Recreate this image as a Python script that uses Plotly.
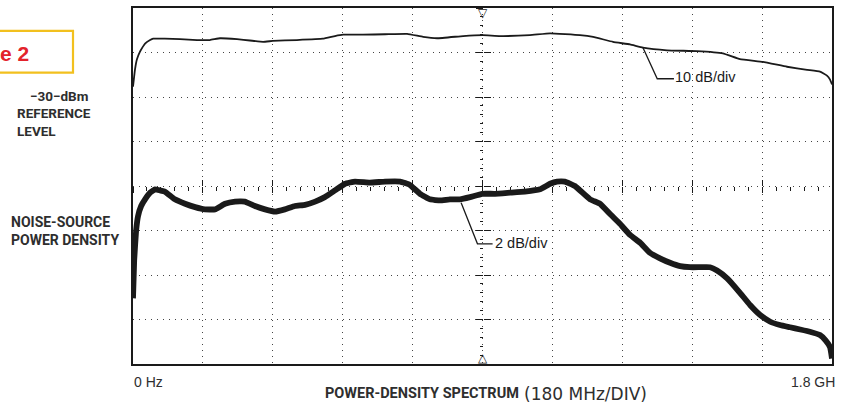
import plotly.graph_objects as go

# ---- data ----
freq_upper_mhz = [0, 5, 10, 18, 31, 44, 52, 82, 121, 165, 198, 224, 268, 301, 335, 360, 422, 489,
                  520, 541, 592, 649, 706, 747, 783, 850, 901, 945, 1022, 1074, 1151, 1185, 1236,
                  1280, 1313, 1375, 1452, 1519, 1563, 1622, 1684, 1736, 1769, 1787, 1795, 1800]
upper_dbm = [-47.7, -43.9, -41.6, -39.8, -38.0, -37.2, -36.9, -36.9, -37.0, -37.2, -37.2, -36.8,
             -37.0, -37.3, -37.6, -37.4, -37.2, -36.9, -36.3, -36.0, -36.0, -35.9, -35.8, -36.5,
             -36.8, -36.3, -36.1, -36.3, -36.1, -35.7, -36.1, -36.5, -37.6, -38.2, -38.9, -39.5,
             -39.7, -40.2, -41.5, -42.1, -43.2, -43.9, -44.3, -45.2, -46.1, -47.2]

freq_lower_mhz = [0, 3, 8, 13, 21, 31, 44, 57, 70, 82, 108, 134, 160, 185, 211, 237, 263, 288,
                  314, 340, 366, 391, 417, 443, 469, 494, 520, 546, 572, 610, 649, 688, 713, 739,
                  765, 791, 816, 842, 868, 899, 932, 971, 1009, 1048, 1074, 1092, 1112, 1138, 1177,
                  1203, 1228, 1254, 1280, 1306, 1331, 1357, 1383, 1409, 1434, 1460, 1486, 1504,
                  1530, 1563, 1589, 1615, 1641, 1666, 1692, 1718, 1743, 1769, 1784, 1795, 1800]
lower_db = [-43.05, -41.35, -40.0, -39.35, -38.9, -38.6, -38.3, -38.15, -38.2, -38.25, -38.6,
            -38.8, -38.95, -39.05, -39.05, -38.8, -38.7, -38.7, -38.9, -39.05, -39.15, -39.05,
            -38.9, -38.85, -38.7, -38.5, -38.2, -37.9, -37.8, -37.85, -37.8, -37.8, -37.95,
            -38.35, -38.6, -38.65, -38.6, -38.6, -38.5, -38.35, -38.35, -38.3, -38.25, -38.15,
            -37.9, -37.8, -37.8, -38.0, -38.6, -38.8, -39.25, -39.7, -40.2, -40.55, -41.0,
            -41.25, -41.45, -41.6, -41.65, -41.65, -41.65, -41.8, -42.15, -42.8, -43.35, -43.8,
            -44.1, -44.25, -44.35, -44.45, -44.55, -44.7, -44.95, -45.25, -45.75]

# axis settings (divisions)
x_span_mhz = [0, 1800]
x_div_mhz = 180
ref_level_dbm = -30
coarse_scale = 10   # dB/div
fine_scale = 2      # dB/div
n_ydiv = 8

ref_label = "\u221230\u2212dBm"
ref_text = ["REFERENCE", "LEVEL"]
noise_text = ["NOISE-SOURCE", "POWER DENSITY"]
x_start_label = "0 Hz"
x_end_label = "1.8 GH"
title_bold = "POWER-DENSITY SPECTRUM"
title_rest = "(180 MHz/DIV)"
coarse_label = "10 dB/div"
fine_label = "2 dB/div"
fig_label = "e 2"

# ---- layout geometry ----
W, H = 844, 403
ML, MR, MT, MB = 133, 12, 6, 39
PW, PH = W - ML - MR, H - MT - MB


def px(xp):
    return (xp - ML) / PW


def py(yp):
    return (H - MB - yp) / PH


INK = "#1a1a1a"
GRID = "#444444"
LABEL = "#2e2e2e"
NARROW = "Liberation Sans Narrow, Arial Narrow, Roboto, Liberation Sans, sans-serif"
SANS = "Liberation Sans, Arial, sans-serif"

coarse_range = [ref_level_dbm - coarse_scale * n_ydiv, ref_level_dbm]
fine_range = [ref_level_dbm - fine_scale * n_ydiv, ref_level_dbm]

fig = go.Figure()
fig.add_trace(go.Scatter(x=freq_upper_mhz, y=upper_dbm, mode="lines", xaxis="x", yaxis="y",
                         line=dict(color=INK, width=1.8, shape="spline", smoothing=0.3),
                         hoverinfo="skip", showlegend=False))
fig.add_trace(go.Scatter(x=freq_lower_mhz, y=lower_db, mode="lines", xaxis="x", yaxis="y2",
                         line=dict(color=INK, width=5.8, shape="spline", smoothing=0.3),
                         hoverinfo="skip", showlegend=False))
# empty carriers so the centre-line tick axes are drawn
for xa, ya in [("x2", "y"), ("x3", "y"), ("x", "y3"), ("x", "y4")]:
    fig.add_trace(go.Scatter(x=[None], y=[None], xaxis=xa, yaxis=ya, mode="lines",
                             hoverinfo="skip", showlegend=False))

grid_common = dict(showgrid=True, gridcolor=GRID, gridwidth=1.3, griddash="1px,5px",
                   showticklabels=False, zeroline=False, ticks="",
                   showline=True, linecolor=INK, linewidth=1.6, mirror=True)

center_tick_x = dict(overlaying="x", anchor="free", position=0.5, range=x_span_mhz,
                     showgrid=False, zeroline=False, showline=False, showticklabels=False,
                     tick0=0, dtick=x_div_mhz, ticklen=6, tickwidth=1.3, tickcolor=INK,
                     minor=dict(dtick=x_div_mhz / 5, ticklen=3.5, tickwidth=1.1, tickcolor=INK,
                                showgrid=False))
center_tick_y = dict(overlaying="y", anchor="free", position=0.5, range=coarse_range,
                     showgrid=False, zeroline=False, showline=False, showticklabels=False,
                     tick0=ref_level_dbm, dtick=coarse_scale, ticklen=7, tickwidth=1.3,
                     tickcolor=INK,
                     minor=dict(dtick=coarse_scale / 5, ticklen=3, tickwidth=1.1, tickcolor=INK,
                                showgrid=False))

fig.update_layout(
    width=W, height=H,
    margin=dict(l=ML, r=MR, t=MT, b=MB),
    paper_bgcolor="white", plot_bgcolor="white",
    xaxis=dict(range=x_span_mhz, tick0=0, dtick=x_div_mhz, **grid_common),
    yaxis=dict(range=coarse_range, tick0=ref_level_dbm, dtick=coarse_scale, **grid_common),
    yaxis2=dict(overlaying="y", range=fine_range, visible=False),
    xaxis2=dict(ticks="outside", **center_tick_x),
    xaxis3=dict(ticks="inside", **center_tick_x),
    yaxis3=dict(ticks="outside", **center_tick_y),
    yaxis4=dict(ticks="inside", **center_tick_y),
)

# leader lines for the two scale labels
fig.add_shape(type="path", xref="x", yref="y", path="M 1313,-38.9 L 1350,-45.9 L 1393,-45.9",
              line=dict(color=INK, width=1.3))
fig.add_shape(type="path", xref="x", yref="y2", path="M 845,-38.75 L 887,-40.6 L 926,-40.6",
              line=dict(color=INK, width=1.3))

# figure-number box
fig.add_shape(type="rect", xref="paper", yref="paper", x0=px(-2), x1=px(73), y0=py(71), y1=py(29),
              line=dict(color="#f2c01e", width=2.2), fillcolor="rgba(0,0,0,0)")

ann = []


def add_text(text, x, y, xanchor="left", size=14, family=SANS, color=LABEL, bold=False,
             xref="paper", yref="paper", align="left"):
    t = f"<b>{text}</b>" if bold else text
    ann.append(dict(text=t, x=x, y=y, xref=xref, yref=yref, xanchor=xanchor, yanchor="middle",
                    showarrow=False, align=align, borderpad=0,
                    font=dict(size=size, family=family, color=color)))


add_text(fig_label, px(-1), py(52), size=21, family="Liberation Sans, Arial", color="#e3232b",
         bold=True)
add_text(ref_label, px(89), py(94), xanchor="right", size=13.5, family=NARROW, bold=True)
add_text("<br>".join(ref_text), px(16), py(120.5), size=13.5, family=NARROW, bold=True)
add_text("<br>".join(noise_text), px(10), py(230), size=14, family=NARROW, bold=True)

add_text(x_start_label, px(133), py(382), size=14)
add_text(x_end_label, px(790), py(382), size=14)
add_text(title_bold, px(520), py(394), xanchor="right", size=14.5, family=NARROW, bold=True)
add_text(title_rest, px(523), py(394), size=17, family="DejaVu Sans, Liberation Sans")

add_text(coarse_label, 1392, -45.6, size=14.5, xref="x", yref="y", color=INK)
add_text(fine_label, 930, -40.55, size=14.5, xref="x", yref="y2", color=INK)

# centre-line end markers
add_text("\u25bd", 900, py(11), xanchor="center", size=12, xref="x", color=INK)
add_text("\u25b3", 900, py(358), xanchor="center", size=12, xref="x", color=INK)

fig.update_layout(annotations=ann)
fig.write_html("out.html")
